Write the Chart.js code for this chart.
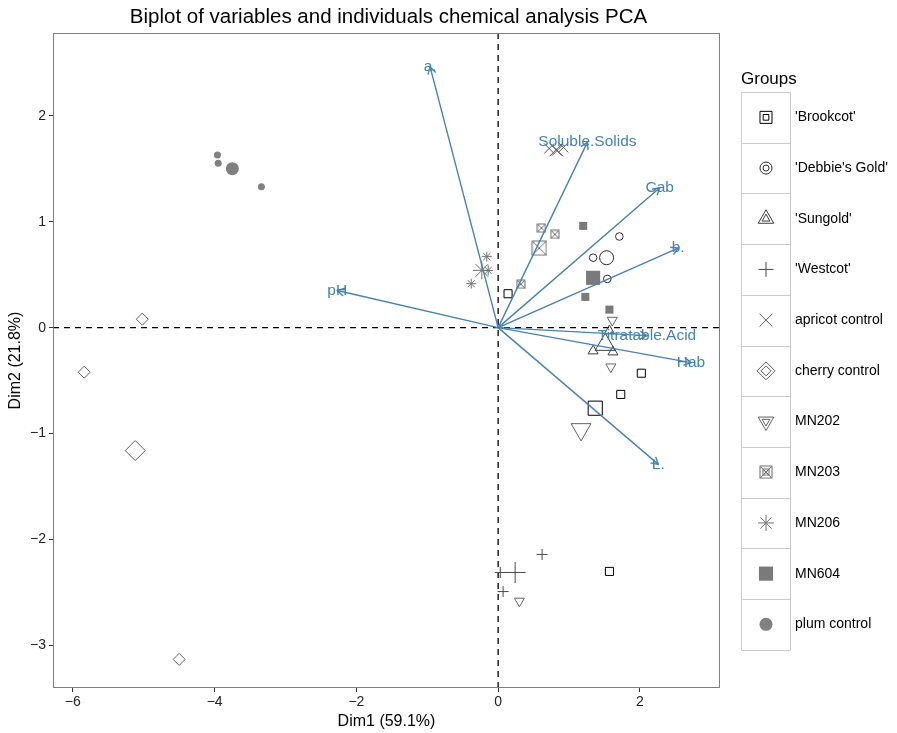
<!DOCTYPE html>
<html lang="en">
<head>
    <meta charset="UTF-8">
    <title>Biplot PCA</title>
    <script src="https://cdn.jsdelivr.net/npm/chart.js"></script>
    <style>
        html, body { margin: 0; padding: 0; background: #fff; }
        #wrap { width: 897px; height: 733px; }
    </style>
</head>
<body>
    <div id="wrap"><canvas id="biplot" width="897" height="733"></canvas></div>

    <script>
        // axis ticks
        const xTicks = [-6, -4, -2, 0, 2];
        const yTicks = [-3, -2, -1, 0, 1, 2];

        // groups (legend order)
        const groupNames = ["'Brookcot'", "'Debbie's Gold'", "'Sungold'", "'Westcot'", 'apricot control',
            'cherry control', 'MN202', 'MN203', 'MN206', 'MN604', 'plum control'];

        // individuals [Dim1, Dim2]
        const brookcot = [[0.14, 0.32], [2.02, -0.43], [1.73, -0.63], [1.57, -2.30]];
        const debbiesGold = [[1.71, 0.86], [1.34, 0.66], [1.54, 0.46]];
        const sungold = [[1.34, -0.22], [1.62, -0.23], [1.57, -0.03]];
        const westcot = [[0.62, -2.14], [0.03, -2.31], [0.07, -2.49]];
        const apricotControl = [[0.72, 1.69], [0.83, 1.67], [0.92, 1.70]];
        const cherryControl = [[-5.02, 0.08], [-5.84, -0.42], [-4.50, -3.13]];
        const mn202 = [[1.61, 0.07], [1.59, -0.37], [0.30, -2.58]];
        const mn203 = [[0.61, 0.94], [0.80, 0.88], [0.32, 0.41]];
        const mn206 = [[-0.16, 0.67], [-0.14, 0.54], [-0.38, 0.415]];
        const mn604 = [[1.20, 0.96], [1.23, 0.29], [1.57, 0.17]];
        const plumControl = [[-3.96, 1.63], [-3.95, 1.55], [-3.34, 1.33]];

        // group means (big symbols)
        const centroids = [[1.37, -0.76], [1.53, 0.66], [1.51, -0.16], [0.24, -2.31], [0.82, 1.68],
            [-5.12, -1.16], [1.17, -0.96], [0.58, 0.75], [-0.23, 0.54], [1.34, 0.47], [-3.75, 1.50]];

        // variables
        const varNames = ['a.', 'pH', 'Soluble.Solids', 'Cab', 'b.', 'Titratable.Acid', 'Hab', 'L.'];
        const varDim1 = [-0.96, -2.27, 1.26, 2.28, 2.54, 2.10, 2.72, 2.26];
        const varDim2 = [2.46, 0.35, 1.75, 1.32, 0.75, -0.075, -0.33, -1.29];

        const groupPoints = [brookcot, debbiesGold, sungold, westcot, apricotControl, cherryControl,
            mn202, mn203, mn206, mn604, plumControl];

        const X_MIN = -6.28, X_MAX = 3.13, Y_MIN = -3.40, Y_MAX = 2.78;
        const FONT = '"Liberation Sans", Arial, sans-serif';
        const BLUE = '#4682B4';

        const greys = ['#000000', '#2d2d2d', '#3d3d3d', '#4a4a4a', '#545454', '#5d5d5d',
            '#656565', '#6c6c6c', '#737373', '#7a7a7a', '#808080'];

        // boxed cross (shape 7)
        function boxX(side, color) {
            const s = Math.ceil(side) + 2;
            const c = document.createElement('canvas');
            c.width = s; c.height = s;
            const g = c.getContext('2d');
            const o = (s - side) / 2;
            g.strokeStyle = color;
            g.lineWidth = 1;
            g.strokeRect(o, o, side, side);
            g.beginPath();
            g.moveTo(o, o); g.lineTo(o + side, o + side);
            g.moveTo(o + side, o); g.lineTo(o, o + side);
            g.stroke();
            return c;
        }

        const boxSmall = boxX(8, greys[7]);
        const boxBig = boxX(14, greys[7]);

        const styles = [
            { style: 'rect', r: [5.7, 10], fill: false, key: [4, 8.5] },
            { style: 'circle', r: [3.8, 7], fill: false, key: [3, 6] },
            { style: 'triangle', r: [5.8, 11.5], fill: false, key: [4.5, 9] },
            { style: 'cross', r: [5.5, 10.5], fill: false, key: [7.5] },
            { style: 'crossRot', r: [7, 9.5], fill: false, key: [9] },
            { style: 'rectRot', r: [6, 10], fill: false, key: [5, 9] },
            { style: 'triangle', rot: 180, r: [5.8, 11.5], fill: false, key: [4.5, 9] },
            { style: 'boxX', r: [4, 7], fill: false, key: [4, 7] },
            { style: 'star', r: [5, 9], fill: false, key: [8] },
            { style: 'rect', r: [5.7, 10], fill: true, key: [10] },
            { style: 'circle', r: [3.5, 6.5], fill: true, key: [6.5] }
        ];

        const datasets = [];

        // arrows on top
        varNames.forEach((name, i) => {
            datasets.push({
                label: name,
                data: [{ x: 0, y: 0 }, { x: varDim1[i], y: varDim2[i] }],
                showLine: true,
                borderColor: BLUE,
                borderWidth: 1.4,
                pointRadius: 0,
                order: 0
            });
        });

        groupNames.forEach((name, i) => {
            const s = styles[i];
            const pts = groupPoints[i].concat([centroids[i]]);
            const n = pts.length;
            const radii = pts.map((p, k) => k === n - 1 ? s.r[1] : s.r[0]);
            let ps = s.style;
            if (s.style === 'boxX') ps = pts.map((p, k) => k === n - 1 ? boxBig : boxSmall);
            datasets.push({
                label: name,
                data: pts.map(p => ({ x: p[0], y: p[1] })),
                pointStyle: ps,
                pointRadius: radii,
                pointRotation: s.rot || 0,
                pointBorderColor: greys[i],
                pointBackgroundColor: s.fill ? greys[i] : 'rgba(0,0,0,0)',
                pointBorderWidth: s.fill ? 0 : 1,
                showLine: false,
                order: 1
            });
        });

        // reference lines
        datasets.push({
            data: [{ x: X_MIN, y: 0 }, { x: X_MAX, y: 0 }],
            showLine: true, borderColor: '#000', borderWidth: 1.3, borderDash: [6, 5],
            pointRadius: 0, order: 2
        });
        datasets.push({
            data: [{ x: 0, y: Y_MIN }, { x: 0, y: Y_MAX }],
            showLine: true, borderColor: '#000', borderWidth: 1.3, borderDash: [6, 5],
            pointRadius: 0, order: 2
        });

        const decor = {
            id: 'decor',
            afterDatasetsDraw(chart) {
                const ctx = chart.ctx;
                const xs = chart.scales.x, ys = chart.scales.y;
                const a = chart.chartArea;
                const ox = xs.getPixelForValue(0), oy = ys.getPixelForValue(0);
                ctx.save();
                ctx.strokeStyle = BLUE;
                ctx.lineWidth = 1.4;
                ctx.fillStyle = BLUE;
                ctx.font = '15.5px ' + FONT;
                ctx.textAlign = 'center';
                ctx.textBaseline = 'middle';
                varNames.forEach((name, i) => {
                    const tx = xs.getPixelForValue(varDim1[i]);
                    const ty = ys.getPixelForValue(varDim2[i]);
                    const ang = Math.atan2(ty - oy, tx - ox);
                    const len = 8;
                    ctx.beginPath();
                    ctx.moveTo(tx - len * Math.cos(ang - Math.PI / 6), ty - len * Math.sin(ang - Math.PI / 6));
                    ctx.lineTo(tx, ty);
                    ctx.lineTo(tx - len * Math.cos(ang + Math.PI / 6), ty - len * Math.sin(ang + Math.PI / 6));
                    ctx.stroke();
                    ctx.fillText(name, tx, ty);
                });
                // panel border
                ctx.strokeStyle = '#7f7f7f';
                ctx.lineWidth = 1;
                ctx.strokeRect(Math.round(a.left) + 0.5, Math.round(a.top) + 0.5,
                    Math.round(a.right - a.left) - 1, Math.round(a.bottom - a.top) - 1);
                ctx.restore();
            },
            afterDraw(chart) {
                const ctx = chart.ctx;
                const a = chart.chartArea;
                ctx.save();
                // title
                ctx.fillStyle = '#000';
                ctx.font = '20.5px ' + FONT;
                ctx.textAlign = 'center';
                ctx.textBaseline = 'middle';
                ctx.fillText('Biplot of variables and individuals chemical analysis PCA', (a.left + a.right) / 2 + 2, 17);

                // legend
                const lx = 741, top = 92, rowH = 50.7, kw = 49;
                ctx.textAlign = 'left';
                ctx.font = '17px ' + FONT;
                ctx.fillText('Groups', lx, 79);
                ctx.font = '14px ' + FONT;
                groupNames.forEach((name, i) => {
                    const y0 = top + i * rowH;
                    ctx.fillStyle = '#fff';
                    ctx.fillRect(lx, y0, kw, rowH);
                    ctx.strokeStyle = '#cccccc';
                    ctx.lineWidth = 1;
                    ctx.strokeRect(lx + 0.5, Math.round(y0) + 0.5, kw, Math.round(rowH));
                    const cx = lx + kw / 2 + 0.5, cy = y0 + rowH / 2;
                    const s = styles[i];
                    ctx.strokeStyle = greys[i];
                    ctx.fillStyle = s.fill ? greys[i] : 'rgba(0,0,0,0)';
                    ctx.lineWidth = 1;
                    s.key.forEach(r => {
                        let ps = s.style;
                        if (ps === 'boxX') ps = r > 5 ? boxX(12, greys[i]) : boxX(6, greys[i]);
                        Chart.helpers.drawPoint(ctx, {
                            pointStyle: ps, rotation: s.rot || 0, radius: r,
                            borderWidth: s.fill ? 0 : 1
                        }, cx, cy);
                    });
                    ctx.fillStyle = '#000';
                    ctx.fillText(name, 795, cy);
                });
                ctx.restore();
            }
        };

        const tickFmt = v => v < 0 ? '\u2212' + Math.abs(v) : String(v);

        new Chart(document.getElementById('biplot').getContext('2d'), {
            type: 'scatter',
            data: { datasets: datasets },
            options: {
                responsive: false,
                animation: false,
                layout: { padding: { top: 33, right: 177, left: 0, bottom: 0 } },
                plugins: { legend: { display: false }, tooltip: { enabled: false }, title: { display: false } },
                scales: {
                    x: {
                        type: 'linear', min: X_MIN, max: X_MAX,
                        afterBuildTicks: s => { s.ticks = xTicks.map(v => ({ value: v })); },
                        afterFit: s => { s.height = 45; },
                        grid: { display: true, drawOnChartArea: false, drawTicks: true, tickLength: 4, color: '#333' },
                        border: { display: false },
                        ticks: { callback: tickFmt, color: '#222', font: { size: 14, family: FONT }, padding: 2, maxRotation: 0 },
                        title: { display: true, text: 'Dim1 (59.1%)', color: '#000', font: { size: 16, family: FONT }, padding: { top: 0, bottom: 2 } }
                    },
                    y: {
                        type: 'linear', min: Y_MIN, max: Y_MAX,
                        afterBuildTicks: s => { s.ticks = yTicks.map(v => ({ value: v })); },
                        afterFit: s => { s.width = 53; },
                        grid: { display: true, drawOnChartArea: false, drawTicks: true, tickLength: 4, color: '#333' },
                        border: { display: false },
                        ticks: { callback: tickFmt, color: '#222', font: { size: 14, family: FONT }, padding: 3 },
                        title: { display: true, text: 'Dim2 (21.8%)', color: '#000', font: { size: 16, family: FONT }, padding: { top: 6, bottom: 4 } }
                    }
                }
            },
            plugins: [decor]
        });
    </script>
</body>
</html>
